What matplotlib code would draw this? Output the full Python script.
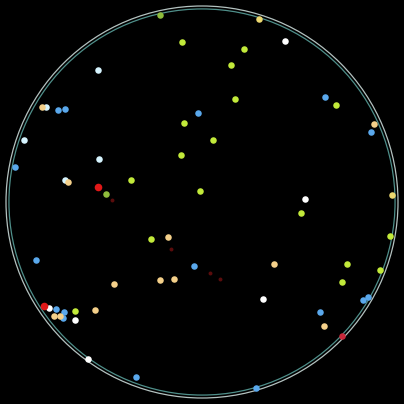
import numpy as np
import matplotlib
matplotlib.use('Agg')
import matplotlib.pyplot as plt
from matplotlib.patches import Circle

# %% data: points inside the unit disk (x, y), grouped by colour

ygreen_x = [-0.102, -0.092, -0.107, -0.362, -0.010, 0.214, 0.148, 0.168, 0.684, 0.056,
            -0.260, -0.648, 0.505, 0.959, 0.740, 0.908, 0.714]
ygreen_y = [0.816, 0.403, 0.240, 0.112, 0.056, 0.781, 0.699, 0.526, 0.495, 0.316,
            -0.189, -0.556, -0.056, -0.173, -0.316, -0.347, -0.408]

olive_x = [-0.214, -0.490]
olive_y = [0.954, 0.041]

cyan_x = [-0.531, -0.908, -0.526, -0.699, -0.796]
cyan_y = [0.673, 0.316, 0.219, 0.112, 0.485]

blue_x = [-0.735, -0.699, -0.020, -0.954, 0.628, 0.862, -0.847, -0.041, -0.745, -0.704,
          -0.709, 0.821, 0.847, 0.602, -0.337, 0.276]
blue_y = [0.469, 0.474, 0.454, 0.179, 0.536, 0.357, -0.296, -0.327, -0.546, -0.561,
          -0.592, -0.500, -0.485, -0.561, -0.893, -0.949]

orange_x = [-0.816, 0.878, -0.173, -0.449, -0.214, -0.143, -0.755, -0.724, -0.546, 0.367,
            0.622, -0.684]
orange_y = [0.485, 0.398, -0.179, -0.418, -0.398, -0.393, -0.582, -0.582, -0.551, -0.316,
            -0.633, 0.102]

yellow_x = [0.291, 0.969]
yellow_y = [0.934, 0.036]

white_x = [0.423, 0.526, -0.781, -0.648, -0.582, 0.311]
white_y = [0.821, 0.015, -0.541, -0.602, -0.801, -0.495]

red_x = [-0.531, -0.806]
red_y = [0.077, -0.531]

crimson_x = [0.714]
crimson_y = [-0.684]

dark_x = [-0.459, -0.158, 0.041, 0.092]
dark_y = [0.010, -0.240, -0.362, -0.393]

# %% figure

fig = plt.figure(figsize=(4.04, 4.04), dpi=100, facecolor='black')
ax = fig.add_axes([0, 0, 1, 1])
ax.set_facecolor('black')
lim = 202 / 196
ax.set_xlim(-lim, lim)
ax.set_ylim(-lim, lim)
ax.set_aspect('equal')
ax.axis('off')

ax.add_patch(Circle((0, 0), 1.0, fill=False, ec='#b4c2c0', lw=0.9, zorder=1))
ax.add_patch(Circle((0, 0), 0.985, fill=False, ec='#4f8f8a', lw=0.9, zorder=1))

s = 22
ax.scatter(dark_x, dark_y, s=8, c='#5a0c0c', lw=0, zorder=2)
ax.scatter(ygreen_x, ygreen_y, s=s, c='#c2ea3a', lw=0, zorder=3)
ax.scatter(olive_x, olive_y, s=s, c='#8fbc3c', lw=0, zorder=3)
ax.scatter(cyan_x, cyan_y, s=s, c='#d6f4ff', lw=0, zorder=3)
ax.scatter(blue_x, blue_y, s=s, c='#5aa8ec', lw=0, zorder=3)
ax.scatter(orange_x, orange_y, s=s, c='#f4d08a', lw=0, zorder=3)
ax.scatter(yellow_x, yellow_y, s=s, c='#ecd870', lw=0, zorder=3)
ax.scatter(white_x, white_y, s=s, c='#ffffff', lw=0, zorder=3)
ax.scatter(red_x, red_y, s=30, c='#e01818', lw=0, zorder=3)
ax.scatter(crimson_x, crimson_y, s=s, c='#c8283a', lw=0, zorder=3)

fig.savefig('out.png', dpi=100, facecolor='black')
